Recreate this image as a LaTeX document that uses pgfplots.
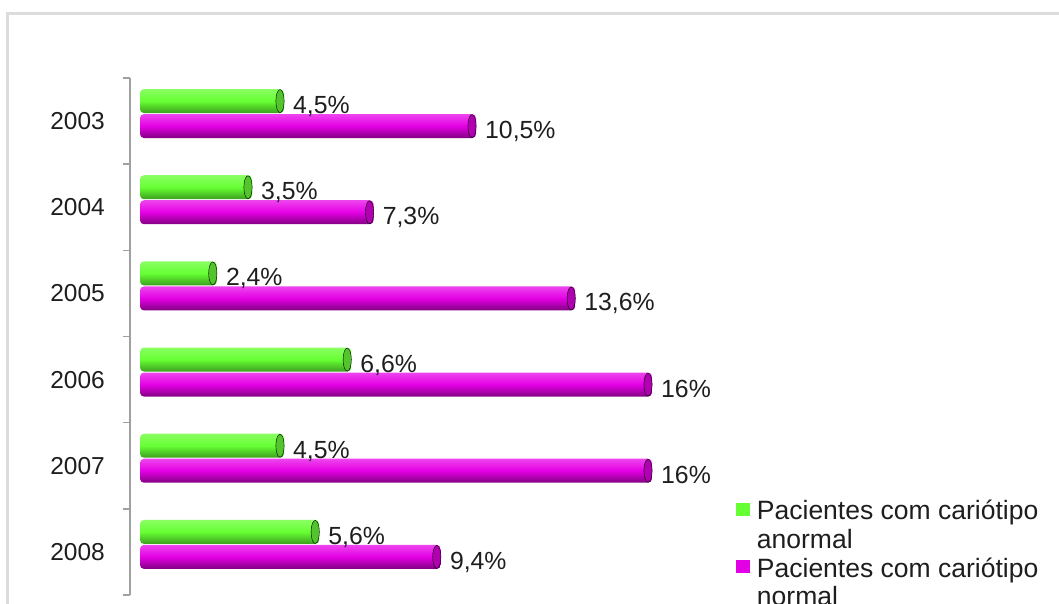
\documentclass[border=0pt]{standalone}
\usepackage{pgfplots}
\usepackage{pgfplotstable}
\pgfplotsset{compat=1.18}
\usepackage{fontspec}
\setmainfont{Liberation Sans}
\definecolor{gbar}{HTML}{66FF33}
\definecolor{gtop}{HTML}{8AFF62}
\definecolor{gbot}{HTML}{3C9E1E}
\definecolor{gcap}{HTML}{52C42C}
\definecolor{mbar}{HTML}{E400E4}
\definecolor{mtop}{HTML}{EE44EE}
\definecolor{mbot}{HTML}{800080}
\definecolor{mcap}{HTML}{B000B0}
\definecolor{framegray}{HTML}{DCDCDC}
\definecolor{axgray}{HTML}{A0A0A0}
\definecolor{txt}{HTML}{1E1E1E}
\pgfplotstableread{
x y lab
4.5 5 {4,5\%}
3.5 4 {3,5\%}
2.4 3 {2,4\%}
6.6 2 {6,6\%}
4.5 1 {4,5\%}
5.6 0 {5,6\%}
}\tabanormal
\pgfplotstableread{
x y lab
10.5 5 {10,5\%}
7.3 4 {7,3\%}
13.6 3 {13,6\%}
16 2 {16\%}
16 1 {16\%}
9.4 0 {9,4\%}
}\tabnormal
\begin{document}
\begin{tikzpicture}[x=1pt,y=1pt]
\useasboundingbox (0,0) rectangle (1059,604);
\fill[white] (0,0) rectangle (1059,604);
\clip (0,0) rectangle (1059,604);
\draw[framegray, line width=3pt] (7.5,-5) -- (7.5,590.5) -- (1065,590.5);
\begin{axis}[
  at={(130pt,9pt)}, anchor=south west,
  scale only axis, width=910pt, height=517pt,
  xmin=-0.3125, xmax=28.125,
  ymin=-0.5, ymax=5.5,
  axis x line=none,
  axis y line*=left,
  y axis line style={axgray, line width=2pt},
  ytick={0,...,5}, yticklabels={2008,2007,2006,2005,2004,2003},
  major tick length=0pt,
  minor ytick={-0.5,0.5,...,5.5},
  minor tick length=7pt,
  tick align=outside,
  every minor tick/.style={axgray, line width=1.5pt},
  yticklabel style={font=\fontsize{24.5}{29}\selectfont, text=txt, inner sep=0pt, xshift=-25pt},
  xbar, bar width=24pt,
  nodes near coords,
  point meta=explicit symbolic,
  every node near coord/.append style={anchor=base west, text=txt, font=\fontsize{24.8}{29}\selectfont, inner sep=0pt, xshift=9pt, yshift=-12.5pt},
  barbase/.style={forget plot, draw=none, rounded corners=4pt},
  gstyle/.style={barbase, top color=gtop, bottom color=gbot, middle color=gbar, bar shift=20pt},
  mstyle/.style={barbase, top color=mtop, bottom color=mbot, middle color=mbar, bar shift=-5pt},
  capstyle/.style={sharp plot, only marks, forget plot, mark=*, mark size=11.5pt, nodes near coords={}},
  legend style={draw=none, fill=none, inner sep=0pt, outer sep=0pt, anchor=north west,
    at={(0.666,0.184)}, font=\fontsize{26.5}{31}\selectfont, text=txt,
    nodes={inner sep=0pt, text height=19.8pt, text depth=8.9pt},
    column sep=8pt, row sep=0pt},
  legend cell align=left,
]
\pgfplotsinvokeforeach{0,...,5}{
  \addplot[gstyle, restrict y to domain=#1:#1] table[x=x, y=y, meta=lab] {\tabanormal};
  \addplot[mstyle, restrict y to domain=#1:#1] table[x=x, y=y, meta=lab] {\tabnormal};
}
\addplot[capstyle, mark options={draw=none, fill=gcap, yshift=20pt, xshift=-4pt, xscale=0.36}] table[x=x, y=y, meta=lab] {\tabanormal};
\addplot[capstyle, mark options={draw=none, fill=mcap, yshift=-5pt, xshift=-4pt, xscale=0.36}] table[x=x, y=y, meta=lab] {\tabnormal};
\addlegendimage{legend image code/.code={\fill[gbar] (0pt,-1pt) rectangle (12.5pt,11.5pt);}}
\addlegendimage{empty legend}
\addlegendimage{legend image code/.code={\fill[mbar] (0pt,-1pt) rectangle (12.5pt,11.5pt);}}
\addlegendimage{empty legend}
\legend{Pacientes com cariótipo, anormal, Pacientes com cariótipo, normal}
\end{axis}
\end{tikzpicture}
\end{document}
